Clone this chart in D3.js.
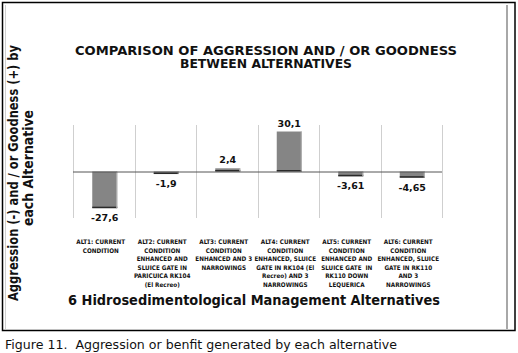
<!DOCTYPE html>
<html>
<head>
<meta charset="utf-8">
<script src="https://cdn.jsdelivr.net/npm/d3@7"></script>
<style>
  body { margin: 0; background: #fff; }
  text { font-family: "DejaVu Sans", sans-serif; }
</style>
</head>
<body>
<script>
// chart data
var categories = [
  ["ALT1: CURRENT", "CONDITION"],
  ["ALT2: CURRENT", "CONDITION", "ENHANCED AND", "SLUICE GATE IN", "PARICUICA RK104", "(El Recreo)"],
  ["ALT3: CURRENT", "CONDITION", "ENHANCED AND 3", "NARROWINGS"],
  ["ALT4: CURRENT", "CONDITION", "ENHANCED, SLUICE", "GATE IN RK104 (El", "Recreo) AND 3", "NARROWINGS"],
  ["ALT5: CURRENT", "CONDITION", "ENHANCED AND", "SLUICE GATE  IN", "RK110 DOWN", "LEQUERICA"],
  ["ALT6: CURRENT", "CONDITION", "ENHANCED, SLUICE", "GATE IN RK110", "AND 3", "NARROWINGS"]
];
var values = [-27.6, -1.9, 2.4, 30.1, -3.61, -4.65];
var titleLines = ["COMPARISON OF AGGRESSION AND / OR GOODNESS", "BETWEEN ALTERNATIVES"];
var yTitleLines = ["Aggression (-) and / or Goodness (+) by", "each Alternative"];
var xTitle = "6 Hidrosedimentological Management Alternatives";
var caption = "Figure 11.  Aggression or benfit generated by each alternative";

var w = 518;
var h = 353;

var svg = d3.select("body").append("svg").attr("width", w).attr("height", h);

// frame around the chart
svg.append("rect").attr("x", 2.5).attr("y", 2.5).attr("width", 512.5).attr("height", 328)
  .attr("fill", "none").attr("stroke", "#000").attr("stroke-width", 1.5);
svg.append("line").attr("x1", 5.5).attr("x2", 5.5).attr("y1", 5).attr("y2", 329)
  .attr("stroke", "#d0d0d0").attr("stroke-width", 1);
svg.append("line").attr("x1", 507).attr("x2", 507).attr("y1", 5).attr("y2", 329)
  .attr("stroke", "#a8a8a8").attr("stroke-width", 2);

// scales
var x = d3.scaleBand().domain(d3.range(categories.length)).range([73, 442]).paddingInner(0).paddingOuter(0);
var y = d3.scaleLinear().domain([-35, 35]).range([218, 125]);
var barW = 25;

// vertical gridlines at band edges
var edges = d3.range(categories.length + 1).map(function(i) { return 73 + i * x.bandwidth(); });
svg.selectAll("line.grid").data(edges).enter().append("line")
  .attr("class", "grid")
  .attr("x1", function(d) { return Math.round(d) + 0.5; })
  .attr("x2", function(d) { return Math.round(d) + 0.5; })
  .attr("y1", y(35)).attr("y2", y(-35))
  .attr("stroke", "#cfcfcf").attr("stroke-width", 1);

// bars
var bars = svg.selectAll("g.bar").data(values).enter().append("g").attr("class", "bar");
bars.append("rect")
  .attr("x", function(d, i) { return x(i) + (x.bandwidth() - barW) / 2 + 1; })
  .attr("y", function(d) { return y(Math.max(0, d)); })
  .attr("width", barW)
  .attr("height", function(d) { return Math.abs(y(d) - y(0)); })
  .attr("fill", "#858585");
// darker bottom edge of each bar
bars.append("rect")
  .attr("x", function(d, i) { return x(i) + (x.bandwidth() - barW) / 2 + 1; })
  .attr("y", function(d) { return y(Math.min(0, d)) - 1.5; })
  .attr("width", barW)
  .attr("height", 1.5)
  .attr("fill", "#2a2a2a");
// lighter right edge
bars.append("rect")
  .attr("x", function(d, i) { return x(i) + (x.bandwidth() + barW) / 2; })
  .attr("y", function(d) { return y(Math.max(0, d)); })
  .attr("width", 1)
  .attr("height", function(d) { return Math.abs(y(d) - y(0)); })
  .attr("fill", "#b5b5b5");

// zero line
svg.append("line").attr("x1", 73).attr("x2", 442).attr("y1", y(0) + 0.5).attr("y2", y(0) + 0.5)
  .attr("stroke", "#555").attr("stroke-width", 1);

// value labels
bars.append("text")
  .attr("x", function(d, i) { return x(i) + x.bandwidth() / 2 + 1; })
  .attr("y", function(d) { return d >= 0 ? y(d) - 5 : y(d) + 13; })
  .attr("text-anchor", "middle")
  .attr("font-size", "9.5px").attr("font-weight", "bold").attr("fill", "#111")
  .text(function(d) { return String(d).replace(".", ","); });

// category labels
var catG = svg.selectAll("text.cat").data(categories).enter().append("text")
  .attr("class", "cat")
  .attr("text-anchor", "middle")
  .style("font-family", "'DejaVu Sans Condensed', 'DejaVu Sans', sans-serif")
  .style("white-space", "pre")
  .attr("font-size", "6.3px").attr("font-weight", "bold").attr("fill", "#111");
catG.selectAll("tspan").data(function(d, i) { return d.map(function(t) { return {t: t, i: i}; }); })
  .enter().append("tspan")
  .attr("x", function(d) { return x(d.i) + x.bandwidth() / 2 - 3; })
  .attr("y", function(d, j) { return 244 + j * 8.6; })
  .text(function(d) { return d.t; });

// title
var titleLen = [382, 172];
svg.selectAll("text.title").data(titleLines).enter().append("text")
  .attr("class", "title")
  .attr("x", 266).attr("y", function(d, i) { return 55 + i * 13; })
  .attr("text-anchor", "middle")
  .attr("textLength", function(d, i) { return titleLen[i]; })
  .attr("lengthAdjust", "spacingAndGlyphs")
  .attr("font-size", "12px").attr("font-weight", "bold").attr("fill", "#111")
  .text(function(d) { return d; });

// y axis title
var yTitlePos = [[18, 173, 256], [33, 168, 116]];
svg.selectAll("text.ytitle").data(yTitleLines).enter().append("text")
  .attr("class", "ytitle")
  .attr("transform", function(d, i) { return "translate(" + yTitlePos[i][0] + "," + yTitlePos[i][1] + ") rotate(-90)"; })
  .attr("text-anchor", "middle")
  .attr("textLength", function(d, i) { return yTitlePos[i][2]; })
  .attr("lengthAdjust", "spacingAndGlyphs")
  .attr("font-size", "13.5px").attr("font-weight", "bold").attr("fill", "#111")
  .text(function(d) { return d; });

// x axis title
svg.append("text").attr("x", 254).attr("y", 305)
  .attr("text-anchor", "middle")
  .attr("textLength", 372)
  .attr("lengthAdjust", "spacingAndGlyphs")
  .attr("font-size", "13.5px").attr("font-weight", "bold").attr("fill", "#111")
  .text(xTitle);

// caption below the frame
svg.append("text").attr("x", 5).attr("y", 349)
  .style("white-space", "pre")
  .attr("textLength", 392)
  .attr("lengthAdjust", "spacingAndGlyphs")
  .attr("font-size", "12.5px").attr("fill", "#111")
  .text(caption);
</script>
</body>
</html>
